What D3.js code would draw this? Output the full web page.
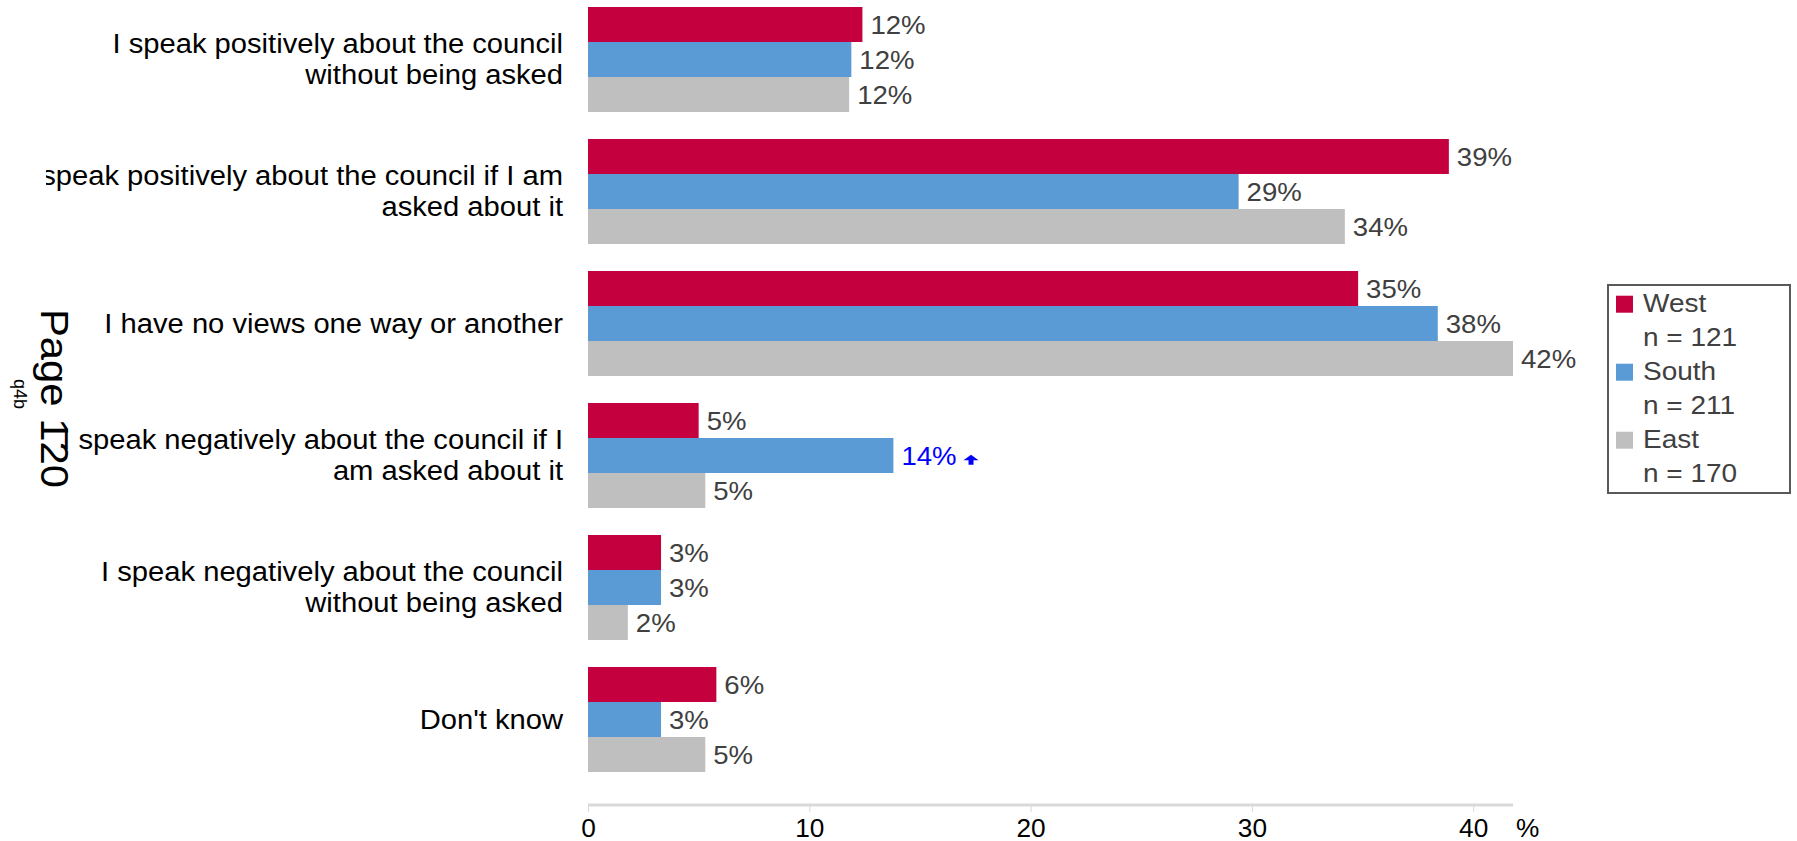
<!DOCTYPE html>
<html>
<head>
<meta charset="utf-8">
<script src="https://cdn.jsdelivr.net/npm/d3@7"></script>
<style>
  html, body { margin: 0; padding: 0; background: #fff; }
  svg { display: block; font-family: "Liberation Sans", Arial, sans-serif; }
</style>
</head>
<body>
<svg id="chart" width="1797" height="841"></svg>
<script>
// Response categories, each split into its wrapped display lines
const categories = [
  "pos_unasked", "pos_asked", "no_view", "neg_asked", "neg_unasked", "dont_know"
];
const categoryLines = [
  ["I speak positively about the council", "without being asked"],
  ["I speak positively about the council if I am", "asked about it"],
  ["I have no views one way or another"],
  ["I speak negatively about the council if I", "am asked about it"],
  ["I speak negatively about the council", "without being asked"],
  ["Don't know"]
];

// Areas compared and their base sizes
const series = ["West", "South", "East"];
const sampleSizes = [121, 211, 170];
const seriesColors = ["#C4003F", "#5B9BD5", "#BFBFBF"];

// Percentages per category, one array per area
const west  = [12.4, 38.9, 34.8, 5.0, 3.3, 5.8];
const south = [11.9, 29.4, 38.4, 13.8, 3.3, 3.3];
const east  = [11.8, 34.2, 41.8, 5.3, 1.8, 5.3];

// Results flagged as significantly higher (category index -> area)
const significantUp = [[], [], [], ["South"], [], []];

const xTicks = [0, 10, 20, 30, 40];
const pageTitle = "Page 120";
const questionCode = "q4b";

const valuesBySeries = { West: west, South: south, East: east };

const svg = d3.select("#chart");

// Scales
const maxVal = d3.max([...west, ...south, ...east]);
const x = d3.scaleLinear().domain([0, maxVal]).range([588, 588 + maxVal * 22.13]);
const y0 = d3.scaleBand().domain(categories)
  .range([-6.5, 785.5]).paddingInner(27 / 132).paddingOuter(13.5 / 132);
const y1 = d3.scaleBand().domain(series).range([0, y0.bandwidth()]);
const color = d3.scaleOrdinal().domain(series).range(seriesColors);

// Horizontally widened text helper
function wideText(parent, sx) {
  return parent.append("text").attr("transform", `scale(${sx},1)`);
}

// Category labels, clipped on the left
svg.append("clipPath").attr("id", "labelClip")
  .append("rect").attr("x", 46).attr("y", 0).attr("width", 540).attr("height", 841);

const labels = svg.append("g").attr("clip-path", "url(#labelClip)");
const lineGap = 31;
categories.forEach((c, i) => {
  const lines = categoryLines[i];
  const cy = y0(c) + y0.bandwidth() / 2;
  const g = labels.append("g").attr("transform", `translate(563,${cy})`);
  const t = wideText(g, 1.08)
    .attr("text-anchor", "end")
    .attr("font-size", 27)
    .attr("fill", "#000");
  lines.forEach((ln, j) => {
    t.append("tspan")
      .attr("x", 0)
      .attr("y", (j - (lines.length - 1) / 2) * lineGap)
      .attr("dy", "0.35em")
      .text(ln);
  });
});

// Bars and value labels
const groups = svg.append("g").selectAll("g")
  .data(categories)
  .join("g")
  .attr("transform", d => `translate(0,${y0(d)})`);

groups.each(function (c, i) {
  const g = d3.select(this);
  const rows = series.map(s => ({ s, v: valuesBySeries[s][i], up: significantUp[i].includes(s) }));

  g.selectAll("rect")
    .data(rows)
    .join("rect")
    .attr("x", x(0))
    .attr("y", d => y1(d.s))
    .attr("width", d => x(d.v) - x(0))
    .attr("height", y1.bandwidth())
    .attr("fill", d => color(d.s));

  rows.forEach(d => {
    const lg = g.append("g")
      .attr("transform", `translate(${x(d.v) + 8},${y1(d.s) + y1.bandwidth() / 2})`);
    const t = wideText(lg, 1.04)
      .attr("font-size", 26.5)
      .attr("dy", "0.35em")
      .attr("fill", d.up ? "#0000FF" : "#404040")
      .text(Math.round(d.v) + "%");
    if (d.up) {
      const w = t.node().getComputedTextLength() * 1.04;
      const ax = w + 14.5, base = 26.5 * 0.35;
      // small upward arrow after the flagged value
      lg.append("path")
        .attr("d", `M${ax},${base - 10} l7.5,5.5 h-5 v4.5 h-5 v-4.5 h-5 z`)
        .attr("fill", "#0000FF");
    }
  });
});

// Bottom axis
const axisY = 805;
const axis = d3.axisBottom(x).tickValues(xTicks).tickSize(7).tickPadding(7).tickFormat(d3.format("d"));
const ag = svg.append("g").attr("transform", `translate(0,${axisY})`).call(axis);
ag.select(".domain").attr("stroke", "#D9D9D9").attr("stroke-width", 3)
  .attr("d", `M${x.range()[0]},0H${x.range()[1]}`);
ag.selectAll(".tick line").attr("stroke", "#D9D9D9").attr("stroke-width", 1);
ag.selectAll(".tick text")
  .attr("font-size", 25)
  .attr("fill", "#000")
  .attr("font-family", "Liberation Sans, Arial, sans-serif")
  .attr("transform", "scale(1.05,1)")
  .attr("x", 0);
const unit = svg.append("g").attr("transform", `translate(${x.range()[1] + 3},${axisY})`);
wideText(unit, 1.05)
  .attr("font-size", 25)
  .attr("y", 14)
  .attr("dy", "0.71em")
  .attr("fill", "#000")
  .text("%");

// Legend
const legend = svg.append("g");
legend.append("rect")
  .attr("x", 1608).attr("y", 285).attr("width", 182).attr("height", 208)
  .attr("fill", "#fff").attr("stroke", "#595959").attr("stroke-width", 2);
const rowPitch = 34;
series.forEach((s, i) => {
  const base = 311.7 + i * 2 * rowPitch;
  legend.append("rect")
    .attr("x", 1616).attr("y", base - 16).attr("width", 17).attr("height", 17)
    .attr("fill", color(s));
  const g1 = legend.append("g").attr("transform", `translate(1643,${base})`);
  wideText(g1, 1.12).attr("font-size", 25).attr("fill", "#404040").text(s);
  const g2 = legend.append("g").attr("transform", `translate(1643,${base + rowPitch})`);
  wideText(g2, 1.12).attr("font-size", 25).attr("fill", "#404040").text("n = " + sampleSizes[i]);
});

// Rotated page reference on the left
const pg = svg.append("g").attr("transform", "translate(41,309) rotate(90)");
pg.append("text").attr("transform", "scale(1.1,1)")
  .attr("font-size", 38).attr("fill", "#000").attr("y", 0).text(pageTitle);
const qg = svg.append("g").attr("transform", "translate(14,379) rotate(90)");
qg.append("text").attr("font-size", 18).attr("fill", "#000").text(questionCode);
</script>
</body>
</html>
